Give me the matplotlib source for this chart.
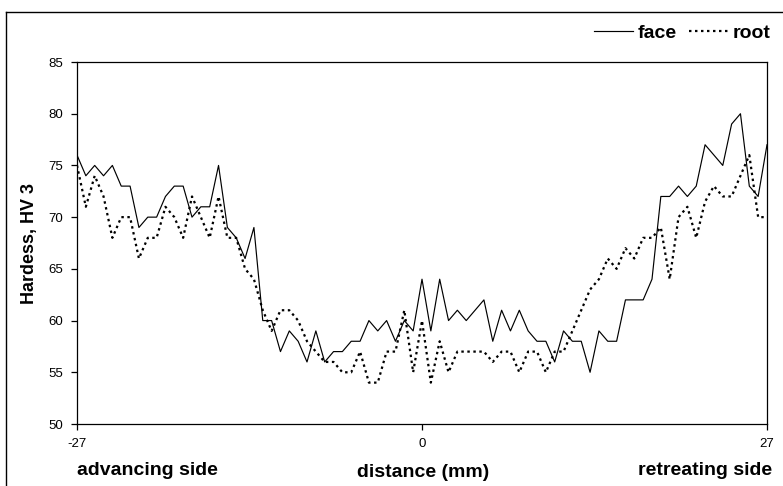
import numpy as np
import matplotlib
matplotlib.use("Agg")
import matplotlib.pyplot as plt
from matplotlib.lines import Line2D

plt.rcParams['font.family'] = ['Liberation Sans', 'DejaVu Sans']
plt.rcParams['axes.unicode_minus'] = False

# distance positions (mm): 79 equally spaced measurement points from -27 to 27
x_start, x_end, n_points = -27, 27, 79
distance = np.linspace(x_start, x_end, n_points)

face = [76, 74, 75, 74, 75, 73, 73, 69, 70, 70,
        72, 73, 73, 70, 71, 71, 75, 69, 68, 66,
        69, 60, 60, 57, 59, 58, 56, 59, 56, 57,
        57, 58, 58, 60, 59, 60, 58, 60, 59, 64,
        59, 64, 60, 61, 60, 61, 62, 58, 61, 59,
        61, 59, 58, 58, 56, 59, 58, 58, 55, 59,
        58, 58, 62, 62, 62, 64, 72, 72, 73, 72,
        73, 77, 76, 75, 79, 80, 73, 72, 77]

root = [75, 71, 74, 72, 68, 70, 70, 66, 68, 68,
        71, 70, 68, 72, 70, 68, 72, 68, 68, 65,
        64, 61, 59, 61, 61, 60, 58, 57, 56, 56,
        55, 55, 57, 54, 54, 57, 57, 61, 55, 60,
        54, 58, 55, 57, 57, 57, 57, 56, 57, 57,
        55, 57, 57, 55, 57, 57, 59, 61, 63, 64,
        66, 65, 67, 66, 68, 68, 69, 64, 70, 71,
        68, 71.5, 73, 72, 72, 74, 76, 70, 70]

series_names = ["face", "root"]
x_ticks = [-27, 0, 27]
y_ticks = [50, 55, 60, 65, 70, 75, 80, 85]

W, H = 783, 486
fig = plt.figure(figsize=(W / 100, H / 100), dpi=100)
ax = fig.add_axes([77 / W, 1 - 424 / H, (767 - 77) / W, (424 - 62) / H])

dot_style = (0, (1.1, 1.6))
ax.plot(distance, face, color='black', lw=0.85)
ax.plot(distance, root, color='black', lw=1.6, linestyle=dot_style)

ax.set_xlim(x_start, x_end)
ax.set_ylim(50, 85)
ax.set_xticks(x_ticks)
ax.set_xticklabels([str(t) for t in x_ticks])
ax.set_yticks(y_ticks)
for s in ax.spines.values():
    s.set_linewidth(0.9)
ax.tick_params(direction='out', length=4, width=0.9, labelsize=9.5, pad=6)

ax.set_ylabel("Hardess, HV 3", fontsize=13, fontweight='bold')
ax.yaxis.set_label_coords((38 - 77) / 690, 0.5)

fig.text(77 / W, 1 - 470 / H, "advancing side", fontsize=14, fontweight='bold',
         ha='left', va='center')
fig.text(423 / W, 1 - 472 / H, "distance (mm)", fontsize=14, fontweight='bold',
         ha='center', va='center')
fig.text(772 / W, 1 - 470 / H, "retreating side", fontsize=14, fontweight='bold',
         ha='right', va='center')

handles = [Line2D([], [], color='black', lw=0.85),
           Line2D([], [], color='black', lw=1.6, linestyle=dot_style)]
fig.legend(handles, series_names, loc='center right', ncol=2, frameon=False,
           bbox_to_anchor=(782 / W, 1 - 33 / H), handlelength=2.0,
           handletextpad=0.25, columnspacing=0.6, borderpad=0.1,
           prop={'size': 14, 'weight': 'bold'})

# chart-area frame (top and left edges visible)
fig.add_artist(Line2D([6 / W, 1.0], [1 - 12 / H, 1 - 12 / H], transform=fig.transFigure,
                      color='black', lw=1.0))
fig.add_artist(Line2D([6 / W, 6 / W], [0.0, 1 - 12 / H], transform=fig.transFigure,
                      color='black', lw=1.0))

fig.savefig("out.png", dpi=100)
